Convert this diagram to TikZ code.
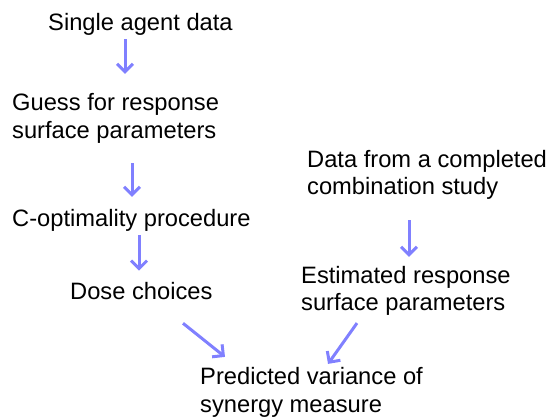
\documentclass[tikz,border=0pt]{standalone}
\usepackage{fontspec}
\setmainfont{Liberation Sans}
\usetikzlibrary{arrows.meta}
\definecolor{flowblue}{RGB}{128,128,255}

\begin{document}
\begin{tikzpicture}[x=1pt,y=1pt,
	txt/.style={anchor=west,align=left,inner sep=0pt,font=\fontsize{23.7}{27.5}\selectfont},
	flow/.style={flowblue,line width=3pt,-{Straight Barb[length=8pt,width=16pt]}}]
	\useasboundingbox (0,0) rectangle (548,417);
	
	\node[txt] (single) at (48,393) {Single agent data};
	\node[txt] (guess) at (12,298.5) {Guess for response\\surface parameters};
	\node[txt] (copt) at (12,197) {C-optimality procedure};
	\node[txt] (dose) at (70,125.5) {Dose choices};
	\node[txt] (data) at (307,242) {Data from a completed\\combination study};
	\node[txt] (est) at (301,126) {Estimated response\\surface parameters};
	\node[txt] (pred) at (200,24.5) {Predicted variance of\\synergy measure};
	
	% vertical arrows keep the x of their target
	\coordinate (a1) at ([xshift=113pt]guess.north west);
	\coordinate (a2) at ([xshift=120pt]copt.north west);
	\coordinate (a3) at ([xshift=69pt]dose.north west);
	\coordinate (a4) at ([xshift=108pt]est.north west);
	\draw[flow] ([yshift=-3.85pt]single.south -| a1) -- ([yshift=19.6pt]a1);
	\draw[flow] ([yshift=-19.6pt]guess.south -| a2) -- ([yshift=11.85pt]a2);
	\draw[flow] ([yshift=-3.85pt]copt.south -| a3) -- ([yshift=11.85pt]a3);
	\draw[flow] ([yshift=-20.1pt]data.south -| a4) -- ([yshift=9.1pt]a4);
	
	\draw[flow] ([xshift=113pt,yshift=-22.85pt]dose.south west) -- ([xshift=25pt,yshift=10.6pt]pred.north west);
	\draw[flow] ([xshift=56pt,yshift=-7.1pt]est.south west) -- ([xshift=128pt,yshift=3.6pt]pred.north west);
\end{tikzpicture}
\end{document}
